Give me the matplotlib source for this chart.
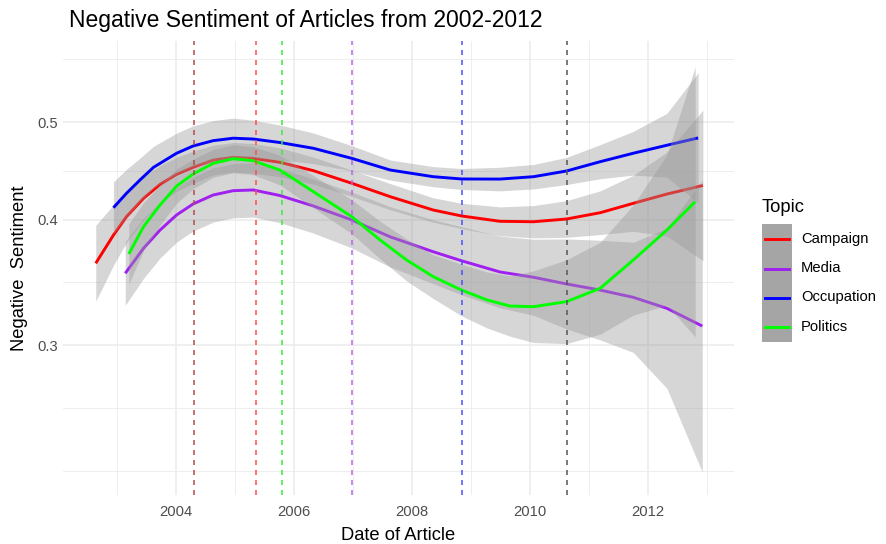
import numpy as np
import matplotlib
matplotlib.use('Agg')
import matplotlib.pyplot as plt
from matplotlib.ticker import FixedLocator, NullFormatter
from matplotlib.patches import Rectangle
from matplotlib.lines import Line2D

plt.rcParams['font.family'] = ['Liberation Sans', 'DejaVu Sans']
plt.rcParams['lines.scale_dashes'] = False

# ---------------- data ----------------
topics = ['Campaign', 'Media', 'Occupation', 'Politics']
topic_colors = ['#FF0000', '#A020F0', '#0000FF', '#00FF00']

camp_x = [2002.64, 2002.94, 2003.16, 2003.45, 2003.73, 2004.01, 2004.29, 2004.63, 2004.97,
          2005.31, 2005.76, 2006.33, 2006.98, 2007.63, 2008.36, 2008.84, 2009.49, 2010.06,
          2010.62, 2011.19, 2011.75, 2012.32, 2012.93]
camp_y = [0.3619, 0.3860, 0.4026, 0.4199, 0.4335, 0.4436, 0.4508, 0.4583, 0.4612,
          0.4601, 0.4560, 0.4473, 0.4346, 0.4215, 0.4088, 0.4033, 0.3984, 0.3980,
          0.4005, 0.4063, 0.4151, 0.4240, 0.4324]
camp_se = [0.087, 0.069, 0.059, 0.050, 0.043, 0.039, 0.037, 0.034, 0.034,
           0.034, 0.033, 0.031, 0.030, 0.030, 0.028, 0.029, 0.033, 0.037,
           0.042, 0.050, 0.064, 0.096, 0.172]

media_x = [2003.14, 2003.45, 2003.73, 2004.01, 2004.29, 2004.63, 2004.97, 2005.31, 2005.76,
           2006.33, 2006.98, 2007.63, 2008.36, 2008.84, 2009.49, 2010.06, 2010.62, 2011.19,
           2011.75, 2012.32, 2012.92]
media_y = [0.3537, 0.3746, 0.3905, 0.4042, 0.4145, 0.4231, 0.4273, 0.4280, 0.4226,
           0.4126, 0.3996, 0.3845, 0.3716, 0.3640, 0.3548, 0.3505, 0.3452, 0.3404,
           0.3348, 0.3265, 0.3135]
media_se = [0.073, 0.069, 0.064, 0.062, 0.062, 0.062, 0.062, 0.062, 0.062,
            0.062, 0.064, 0.069, 0.073, 0.078, 0.082, 0.087, 0.103, 0.114,
            0.126, 0.183, 0.334]

occ_x = [2002.94, 2003.16, 2003.39, 2003.62, 2004.01, 2004.29, 2004.63, 2004.97, 2005.31,
         2005.76, 2006.33, 2006.98, 2007.63, 2008.36, 2008.84, 2009.49, 2010.06, 2010.62,
         2011.19, 2011.75, 2012.32, 2012.85]
occ_y = [0.4110, 0.4247, 0.4379, 0.4508, 0.4655, 0.4733, 0.4791, 0.4818, 0.4809,
         0.4771, 0.4708, 0.4601, 0.4480, 0.4412, 0.4389, 0.4388, 0.4412, 0.4470,
         0.4566, 0.4655, 0.4741, 0.4821]
occ_se = [0.059, 0.055, 0.050, 0.048, 0.046, 0.046, 0.046, 0.046, 0.043,
          0.040, 0.035, 0.029, 0.023, 0.023, 0.024, 0.027, 0.028, 0.031,
          0.039, 0.050, 0.073, 0.149]

pol_x = [2003.20, 2003.45, 2003.73, 2004.01, 2004.29, 2004.63, 2004.97, 2005.31, 2005.76,
         2006.33, 2006.98, 2007.46, 2007.91, 2008.36, 2008.84, 2009.27, 2009.66, 2010.06,
         2010.62, 2011.19, 2011.75, 2012.32, 2012.80]
pol_y = [0.3697, 0.3935, 0.4135, 0.4318, 0.4439, 0.4549, 0.4597, 0.4576, 0.4480,
         0.4263, 0.4026, 0.3817, 0.3646, 0.3510, 0.3404, 0.3328, 0.3282, 0.3277,
         0.3315, 0.3418, 0.3646, 0.3905, 0.4166]
pol_se = [0.069, 0.055, 0.046, 0.039, 0.034, 0.032, 0.032, 0.032, 0.034,
          0.037, 0.039, 0.043, 0.048, 0.050, 0.059, 0.064, 0.069, 0.082,
          0.096, 0.105, 0.126, 0.172, 0.309]

event_x = [2004.31, 2005.36, 2005.79, 2006.98, 2008.84, 2010.63]
event_colors = ['#ae4d4d', '#ff4d4d', '#33ee33', '#bc63f4', '#4d4dff', '#555555']

x_ticks = [2004, 2006, 2008, 2010, 2012]
x_minor = [2003, 2005, 2007, 2009, 2011, 2013]
y_ticks = [0.3, 0.4, 0.5]
y_minor = [0.225, 0.2598, 0.3464, 0.4472, 0.5774]

series = [(camp_x, camp_y, camp_se), (media_x, media_y, media_se),
          (occ_x, occ_y, occ_se), (pol_x, pol_y, pol_se)]

# ---------------- figure ----------------
W, H = 886, 544
fig = plt.figure(figsize=(W / 100, H / 100), dpi=100)
pl, pr, pt, pb = 63, 734, 41, 495
ax = fig.add_axes([pl / W, 1 - pb / H, (pr - pl) / W, (pb - pt) / H])
ax.set_yscale('log')
ax.set_xlim(2002.085, 2013.458)
ax.set_ylim(0.2130, 0.6018)

grid_c = '#ebebeb'
ax.xaxis.set_major_locator(FixedLocator(x_ticks))
ax.xaxis.set_minor_locator(FixedLocator(x_minor))
ax.yaxis.set_major_locator(FixedLocator(y_ticks))
ax.yaxis.set_minor_locator(FixedLocator(y_minor))
ax.set_xticklabels([str(t) for t in x_ticks])
ax.set_yticklabels([str(t) for t in y_ticks])
ax.yaxis.set_minor_formatter(NullFormatter())
ax.xaxis.set_minor_formatter(NullFormatter())
ax.grid(which='major', color=grid_c, linewidth=1.1, zorder=0)
ax.grid(which='minor', color=grid_c, linewidth=0.6, zorder=0)
ax.set_axisbelow(True)
for s in ax.spines.values():
    s.set_visible(False)
ax.tick_params(which='both', length=0)
ax.tick_params(axis='x', pad=7.5, labelsize=10.6, labelcolor='#4d4d4d')
ax.tick_params(axis='y', pad=3.5, labelsize=10.6, labelcolor='#4d4d4d')

z = 2
for (xs, ys, se), col in zip(series, topic_colors):
    xs = np.array(xs); ys = np.array(ys); se = np.array(se)
    lo = np.exp(np.log(ys) - se)
    hi = np.exp(np.log(ys) + se)
    ax.fill_between(xs, lo, hi, color='#999999', alpha=0.4, linewidth=0, zorder=z)
    ax.plot(xs, ys, color=col, linewidth=2.1, zorder=z + 1, solid_capstyle='butt',
            solid_joinstyle='round')
    z += 2

for xv, c in zip(event_x, event_colors):
    ax.axvline(xv, color=c, linewidth=1.1, linestyle=(0, (3.6, 3.6)), zorder=20)

# ---------------- overlay: titles & legend ----------------
ov = fig.add_axes([0, 0, 1, 1])
ov.set_xlim(0, W)
ov.set_ylim(H, 0)
ov.axis('off')
ov.patch.set_alpha(0)

ov.text(69, 20, 'Negative Sentiment of Articles from 2002-2012', fontsize=16.5,
        ha='left', va='center', color='black')
ov.text((pl + pr) / 2, 535, 'Date of Article', fontsize=13.2, ha='center', va='center')
ov.text(20, (pt + pb) / 2, 'Negative  Sentiment', fontsize=13.2, rotation=90,
        ha='center', va='center')

ov.text(762, 207, 'Topic', fontsize=13.2, ha='left', va='center')
ov.add_patch(Rectangle((762, 224), 30, 118, facecolor='#a5a5a5', edgecolor='none'))
key_y = [239, 268.5, 297.5, 327]
for ky, name, col in zip(key_y, topics, topic_colors):
    ov.add_line(Line2D([765, 789], [ky, ky], color=col, linewidth=2.1))
    ov.text(801, ky, name, fontsize=10.6, ha='left', va='center', color='black')

fig.savefig('out.png', dpi=100)
